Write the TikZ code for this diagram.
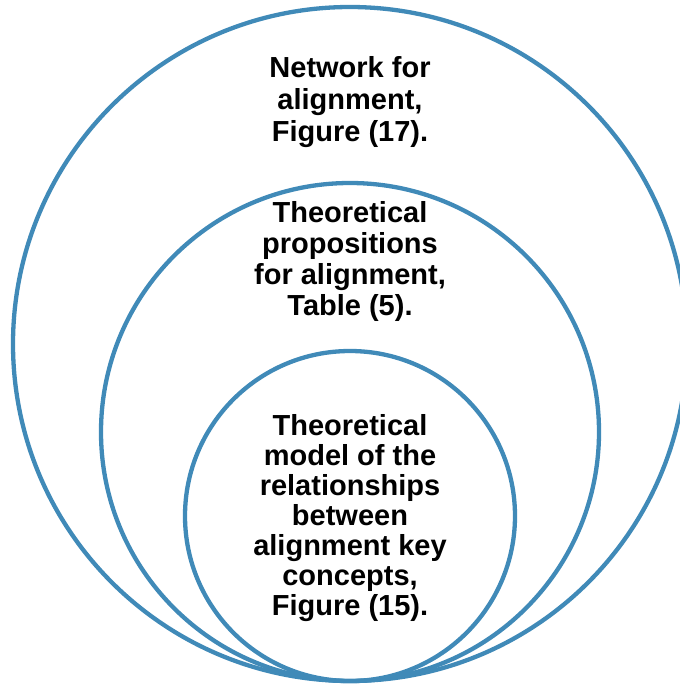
\documentclass[tikz,border=0pt]{standalone}
\usepackage{fontspec}
\setmainfont{Liberation Sans}
\definecolor{ringblue}{RGB}{64,138,184}
\begin{document}
\begin{tikzpicture}[x=1pt,y=-1pt,
  ring/.style={draw=ringblue,line width=4.3pt},
  label/.style={align=center,inner sep=0pt,font=\bfseries\fontsize{29}{32}\selectfont}]
\useasboundingbox (0,0) rectangle (680,686);
\clip (0,0) rectangle (680,686);
% three nested circles, all touching at the bottom
\node[ring,circle,minimum size=674pt,inner sep=0pt] (outer) at (350,344) {};
\node[ring,circle,minimum size=498pt,inner sep=0pt] (middle) at (350,432) {};
\node[ring,circle,minimum size=330pt,inner sep=0pt] (inner) at (350,516) {};
% labels
\node[label] (outertext) at (350,102) {Network for\\alignment,\\Figure (17).};
\node[label,font=\bfseries\fontsize{29}{31}\selectfont] (middletext) at (350,261) {Theoretical\\propositions\\for alignment,\\Table (5).};
\node[label,font=\bfseries\fontsize{29}{30}\selectfont] (innertext) at (350,518) {Theoretical\\model of the\\relationships\\between\\alignment key\\concepts,\\Figure (15).};
\end{tikzpicture}
\end{document}
